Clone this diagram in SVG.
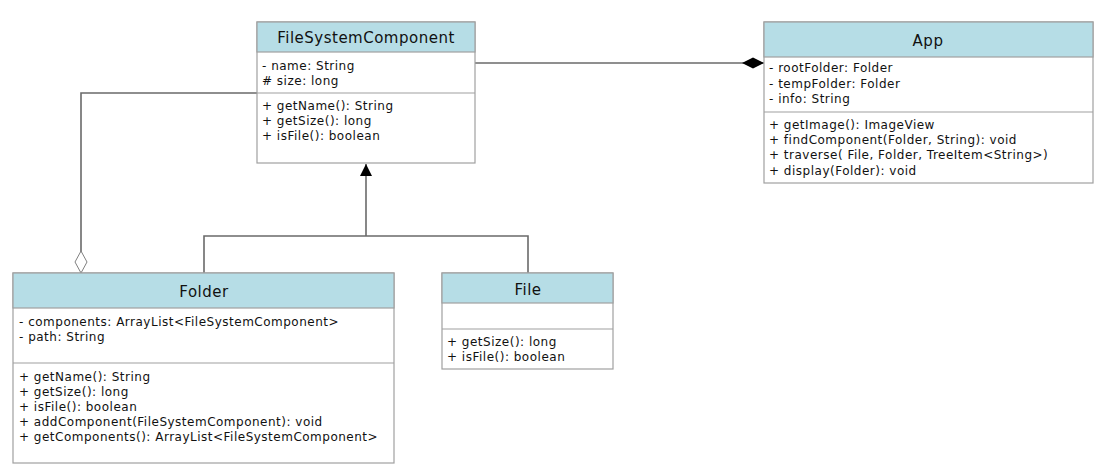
<svg xmlns="http://www.w3.org/2000/svg" width="1113" height="476" viewBox="0 0 1113 476">
<style>
.box{fill:#ffffff;stroke:#a0a0a0;stroke-width:1.2}
.hdr{fill:#b6dde6;stroke:#a0a0a0;stroke-width:1.2}
.sep{stroke:#a0a0a0;stroke-width:1.2;fill:none}
.title{font-family:"DejaVu Sans",Verdana,sans-serif;font-size:15px;letter-spacing:0.5px;fill:#111;text-anchor:middle}
.m{font-family:"DejaVu Sans",Verdana,sans-serif;font-size:12px;letter-spacing:0.5px;fill:#111}
.ln{stroke:#6a6a6a;stroke-width:1.6;fill:none}
</style>
<defs>
<marker id="tri" viewBox="0 0 12 12" markerWidth="12" markerHeight="12" refX="12" refY="6" orient="auto" markerUnits="userSpaceOnUse">
<path d="M0,0 L12,6 L0,12 Z" fill="#000"/>
</marker>
<marker id="dfill" viewBox="0 0 22 12" markerWidth="22" markerHeight="12" refX="22" refY="6" orient="auto" markerUnits="userSpaceOnUse">
<path d="M0,6 L11,0.5 L22,6 L11,11.5 Z" fill="#000"/>
</marker>
<marker id="dopen" viewBox="0 0 24 14" markerWidth="24" markerHeight="14" refX="23" refY="7" orient="auto" markerUnits="userSpaceOnUse">
<path d="M1,7 L12,1 L23,7 L12,13 Z" fill="#fff" stroke="#808080" stroke-width="1"/>
</marker>
</defs>

<g id="connectors">
<path class="ln" d="M475,63 L764,63" marker-end="url(#dfill)"/>
<path class="ln" d="M257,93 L81,93 L81,273" marker-end="url(#dopen)"/>
<path class="ln" d="M204,273 L204,236 L528,236 L528,273"/>
<path class="ln" d="M366,236 L366,164" marker-end="url(#tri)"/>
</g>

<g id="FileSystemComponent">
<rect class="box" x="257" y="22" width="218" height="141"/>
<rect class="hdr" x="257" y="22" width="218" height="30"/>
<line class="sep" x1="257" y1="93" x2="475" y2="93"/>
<text class="title" x="366" y="43">FileSystemComponent</text>
<text class="m" x="262" y="70">- name: String</text>
<text class="m" x="262" y="85"># size: long</text>
<text class="m" x="262" y="110">+ getName(): String</text>
<text class="m" x="262" y="125">+ getSize(): long</text>
<text class="m" x="262" y="140">+ isFile(): boolean</text>
</g>

<g id="App">
<rect class="box" x="764" y="22" width="329" height="161"/>
<rect class="hdr" x="764" y="22" width="329" height="35"/>
<line class="sep" x1="764" y1="112" x2="1093" y2="112"/>
<text class="title" x="928" y="46">App</text>
<text class="m" x="769" y="72">- rootFolder: Folder</text>
<text class="m" x="769" y="87.5">- tempFolder: Folder</text>
<text class="m" x="769" y="103">- info: String</text>
<text class="m" x="769" y="128.5">+ getImage(): ImageView</text>
<text class="m" x="769" y="144">+ findComponent(Folder, String): void</text>
<text class="m" x="769" y="159">+ traverse( File, Folder, TreeItem&lt;String&gt;)</text>
<text class="m" x="769" y="174.5">+ display(Folder): void</text>
</g>

<g id="Folder">
<rect class="box" x="13" y="273" width="381" height="190"/>
<rect class="hdr" x="13" y="273" width="381" height="35"/>
<line class="sep" x1="13" y1="363" x2="394" y2="363"/>
<text class="title" x="204" y="297">Folder</text>
<text class="m" x="19" y="325.5">- components: ArrayList&lt;FileSystemComponent&gt;</text>
<text class="m" x="19" y="340.5">- path: String</text>
<text class="m" x="19" y="381">+ getName(): String</text>
<text class="m" x="19" y="396">+ getSize(): long</text>
<text class="m" x="19" y="411">+ isFile(): boolean</text>
<text class="m" x="19" y="426">+ addComponent(FileSystemComponent): void</text>
<text class="m" x="19" y="441">+ getComponents(): ArrayList&lt;FileSystemComponent&gt;</text>
</g>

<g id="File">
<rect class="box" x="442" y="273" width="171" height="96"/>
<rect class="hdr" x="442" y="273" width="171" height="30"/>
<line class="sep" x1="442" y1="329" x2="613" y2="329"/>
<text class="title" x="528" y="295">File</text>
<text class="m" x="447" y="345.5">+ getSize(): long</text>
<text class="m" x="447" y="360.5">+ isFile(): boolean</text>
</g>
</svg>
